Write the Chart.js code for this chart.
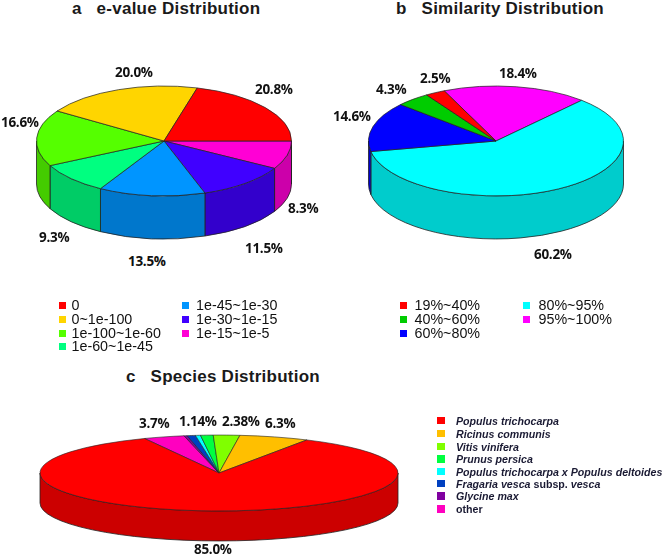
<!DOCTYPE html>
<html>
<head>
<meta charset="utf-8">
<script src="https://cdn.jsdelivr.net/npm/chart.js@4"></script>
<style>
  html, body { margin: 0; padding: 0; background: #fff; }
  #page { position: relative; width: 664px; height: 556px; overflow: hidden; }
  canvas { position: absolute; }
  .txt { position: absolute; white-space: nowrap; color: #111; line-height: 1; transform: translateY(-50%); }
  .title { font: bold 17px "Liberation Sans", sans-serif; color: #1a1a1a; letter-spacing: 0.25px; }
  .pct { font: bold 13.5px "Open Sans", sans-serif; letter-spacing: -0.3px; }
  .leg { font: 14.3px "Liberation Sans", sans-serif; }
  .legc { font: italic bold 10.65px "Liberation Sans", sans-serif; color: #1a1a33; }
  .legc span { font-style: normal; }
  .box { position: absolute; }
</style>
</head>
<body>
<div id="page"></div>
<script>
// a: e-value
const eLabels = ['0', '0~1e-100', '1e-100~1e-60', '1e-60~1e-45', '1e-45~1e-30', '1e-30~1e-15', '1e-15~1e-5'];
const eValues = [20.8, 20.0, 16.6, 9.3, 13.5, 11.5, 8.3];
const eColors = ['#ff0000', '#ffd500', '#55ff00', '#00ff80', '#0095ff', '#4000ff', '#ff00d5'];

// b: similarity
const simLabels = ['19%~40%', '40%~60%', '60%~80%', '80%~95%', '95%~100%'];
const simValues = [2.5, 4.3, 14.6, 60.2, 18.4];
const simColors = ['#ff0000', '#00cc00', '#0000ff', '#00ffff', '#ff00ff'];

// c: species
const spLabels = ['Populus trichocarpa', 'Ricinus communis', 'Vitis vinifera', 'Prunus persica',
  'Populus trichocarpa x Populus deltoides', 'Fragaria vesca subsp. vesca', 'Glycine max', 'other'];
const spValues = [85.0, 6.3, 2.38, 1.14, 0.45, 0.75, 0.28, 3.7];
const spColors = ['#ff0000', '#ffbf00', '#80ff00', '#00ff40', '#00ffff', '#0040c0', '#8000a0', '#ff00bf'];

const page = document.getElementById('page');

function addText(cls, x, y, html) {
  const d = document.createElement('div');
  d.className = 'txt ' + cls;
  d.style.left = x + 'px';
  d.style.top = y + 'px';
  d.innerHTML = html;
  page.appendChild(d);
  return d;
}

function addBox(x, y, size, color) {
  const d = document.createElement('div');
  d.className = 'box';
  d.style.cssText = `left:${x}px;top:${y - size / 2}px;width:${size}px;height:${size}px;background:${color}`;
  page.appendChild(d);
}

function darken(hex) {
  const n = parseInt(hex.slice(1), 16);
  const c = s => Math.round(((n >> s) & 255) * 0.8);
  return `rgb(${c(16)},${c(8)},${c(0)})`;
}

// squashes the pie into an ellipse and draws the side wall under it
const pie3d = {
  id: 'pie3d',
  beforeDatasetsDraw(chart, args, opts) {
    const ctx = chart.ctx;
    const arcs = chart.getDatasetMeta(0).data;
    const { x: cx, y: cy, outerRadius: r } = arcs[0];
    const ry = r * opts.squash;
    ctx.save();
    ctx.lineWidth = 0.8;
    ctx.strokeStyle = '#222';
    arcs.forEach((arc, i) => {
      for (let k = -1; k <= 1; k++) {
        const off = k * 2 * Math.PI;
        const t0 = Math.max(arc.startAngle + off, 0);
        const t1 = Math.min(arc.endAngle + off, Math.PI);
        if (t1 <= t0) continue;
        ctx.beginPath();
        ctx.ellipse(cx, cy, r, ry, 0, t0, t1);
        ctx.lineTo(cx + r * Math.cos(t1), cy + ry * Math.sin(t1) + opts.depth);
        ctx.ellipse(cx, cy + opts.depth, r, ry, 0, t1, t0, true);
        ctx.closePath();
        ctx.fillStyle = darken(arc.options.backgroundColor);
        ctx.fill();
        ctx.stroke();
      }
    });
    ctx.restore();
    ctx.save();
    ctx.translate(cx, cy);
    ctx.scale(1, opts.squash);
    ctx.translate(-cx, -cy);
  },
  afterDatasetsDraw(chart) {
    chart.ctx.restore();
  }
};

function drawPie(left, top, width, height, labels, values, colors, radius, squash, depth, rotation) {
  const canvas = document.createElement('canvas');
  canvas.width = width;
  canvas.height = height;
  canvas.style.left = left + 'px';
  canvas.style.top = top + 'px';
  page.appendChild(canvas);
  // the library goes clockwise, the reference goes the other way
  return new Chart(canvas.getContext('2d'), {
    type: 'pie',
    data: {
      labels: [...labels].reverse(),
      datasets: [{
        data: [...values].reverse(),
        backgroundColor: [...colors].reverse(),
        borderColor: '#222',
        borderWidth: 1,
        clip: false
      }]
    },
    options: {
      responsive: false,
      animation: false,
      events: [],
      radius: radius,
      rotation: rotation,
      plugins: {
        legend: { display: false },
        tooltip: { enabled: false },
        pie3d: { squash: squash, depth: depth }
      }
    },
    plugins: [pie3d]
  });
}

drawPie(0, 31, 328, 220, eLabels, eValues, eColors, 127.5, 0.431, 43, 90);
drawPie(332, 31, 328, 220, simLabels, simValues, simColors, 127.5, 0.431, 43, -24);
drawPie(30, 403, 378, 140, spLabels, spValues, spColors, 179, 0.212, 30, -24.6);

// titles
addText('title', 72, 9, 'a&nbsp;&nbsp;&nbsp;e-value Distribution');
addText('title', 396, 9, 'b&nbsp;&nbsp;&nbsp;Similarity Distribution');
addText('title', 126, 377, 'c&nbsp;&nbsp;&nbsp;Species Distribution');

// percent labels
const ePct = [['20.8%', 255, 89], ['20.0%', 115, 72], ['16.6%', 1, 122], ['9.3%', 39, 237], ['13.5%', 128, 261], ['11.5%', 245, 248], ['8.3%', 288, 208]];
const simPct = [['2.5%', 420, 78], ['4.3%', 376, 89], ['14.6%', 333, 116], ['60.2%', 534, 254], ['18.4%', 499, 73]];
const spPct = [['85.0%', 194, 549], ['6.3%', 265, 423], ['2.38%', 222, 421], ['1.14%', 179, 421], ['3.7%', 139, 423]];
[...ePct, ...simPct, ...spPct].forEach(p => addText('pct', p[1], p[2], p[0]));

// legends
const eRows = [305, 319, 333, 346, 305, 319, 333];
eLabels.forEach((t, i) => {
  const col2 = i > 3;
  addBox(col2 ? 182 : 59, eRows[i], 7, eColors[i]);
  addText('leg', col2 ? 196 : 71.5, eRows[i], t);
});
const simRows = [305, 319, 333, 305, 319];
simLabels.forEach((t, i) => {
  const col2 = i > 2;
  addBox(col2 ? 523 : 400, simRows[i], 7, simColors[i]);
  addText('leg', col2 ? 538.5 : 414.5, simRows[i], t);
});
const spRows = [420.5, 433.5, 446.5, 459, 471.5, 483.5, 496, 509];
spLabels.forEach((t, i) => {
  addBox(437, spRows[i], 7.5, spColors[i]);
  const html = t.replace('subsp.', '<span>subsp.</span>').replace(/^other$/, '<span>other</span>');
  addText('legc', 456, spRows[i], html);
});
</script>
</body>
</html>
